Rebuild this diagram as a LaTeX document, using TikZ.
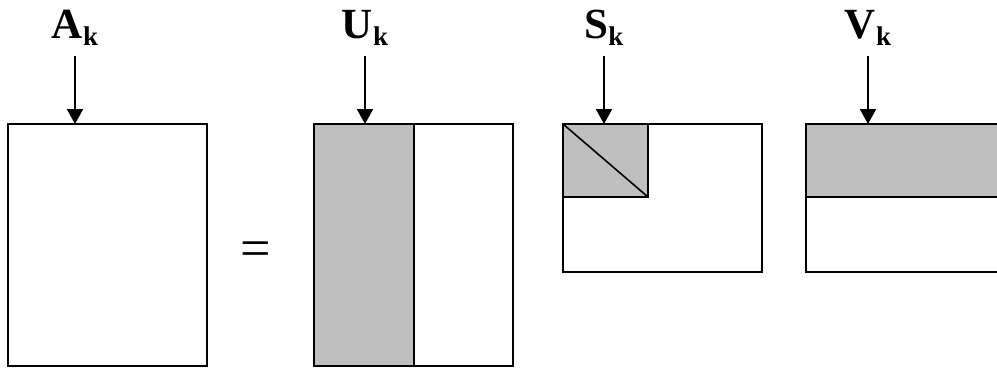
\documentclass[tikz,border=0pt]{standalone}
\usepackage{fontspec}
\setmainfont{Liberation Serif}
\usetikzlibrary{arrows.meta}
\begin{document}
\begin{tikzpicture}[x=1bp,y=-1bp,
  matbox/.style={draw=black,line width=2bp,fill=white,inner sep=0pt,outer sep=0pt,anchor=north west},
  shade/.style={fill=black!25},
  edge/.style={line width=2bp},
  pointer/.style={line width=2bp,-{Triangle[width=16bp,length=15bp]}},
  mlabel/.style={anchor=base,inner sep=0pt,font=\fontsize{43bp}{45bp}\selectfont\bfseries}]
\newcommand{\sublbl}[1]{\raisebox{-7bp}{\fontsize{27bp}{28bp}\selectfont\bfseries #1}}
\clip (0,0) rectangle (997,368);
\fill[white] (0,0) rectangle (997,368);

% A_k
\node[matbox,minimum width=199bp,minimum height=242bp] (A) at (8,124) {};
\node[mlabel] (lA) at (75,38) {A\sublbl{k}};
\coordinate (tA) at (75,56);
\draw[pointer] (tA) -- (tA |- A.north);

% equals sign
\node[inner sep=0pt,font=\fontsize{54bp}{54bp}\selectfont] (eq) at (256,254) {=};

% U_k
\node[matbox,minimum width=199bp,minimum height=242bp] (U) at (314,124) {};
\fill[shade] (U.north west) rectangle (414,366);
\draw[edge] (U.north west) rectangle (U.south east);
\draw[edge] (414,124) -- (414,366);
\node[mlabel] (lU) at (365,38) {U\sublbl{k}};
\coordinate (tU) at (365,56);
\draw[pointer] (tU) -- (tU |- U.north);

% S_k
\node[matbox,minimum width=199bp,minimum height=148bp] (S) at (563,124) {};
\fill[shade] (S.north west) rectangle (648,197);
\draw[edge] (S.north west) rectangle (S.south east);
\draw[edge] (563,197) -- (648,197) -- (648,124);
\draw[line width=1.6bp] (S.north west) -- (648,197);
\node[mlabel] (lS) at (604,38) {S\sublbl{k}};
\coordinate (tS) at (604,56);
\draw[pointer] (tS) -- (tS |- S.north);

% V_k (runs past the right edge)
\node[matbox,minimum width=220bp,minimum height=148bp] (V) at (806,124) {};
\fill[shade] (V.north west) rectangle (1026,197);
\draw[edge] (V.north west) rectangle (V.south east);
\draw[edge] (806,197) -- (1026,197);
\node[mlabel] (lV) at (868,38) {V\sublbl{k}};
\coordinate (tV) at (868,56);
\draw[pointer] (tV) -- (tV |- V.north);
\end{tikzpicture}
\end{document}
